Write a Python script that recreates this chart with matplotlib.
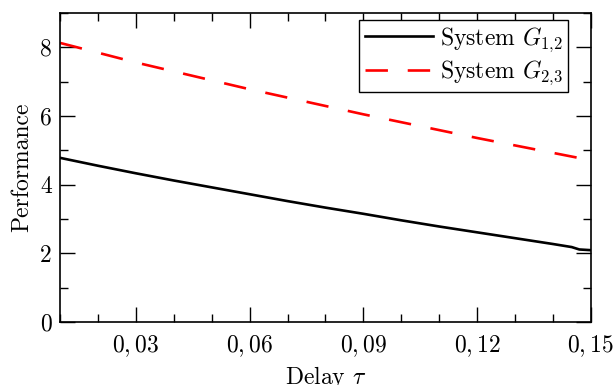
import matplotlib
matplotlib.use('Agg')
import matplotlib.pyplot as plt
from matplotlib.ticker import MultipleLocator, FixedLocator

plt.rcParams['font.family'] = 'serif'
plt.rcParams['font.serif'] = ['cmr10']
plt.rcParams['mathtext.fontset'] = 'cm'
plt.rcParams['axes.unicode_minus'] = False
plt.rcParams['axes.formatter.use_mathtext'] = True

# delay values and performance
tau_g12 = [0.01, 0.02, 0.03, 0.04, 0.05, 0.06, 0.07, 0.08, 0.09, 0.10,
           0.11, 0.12, 0.13, 0.14, 0.145, 0.147, 0.15]
perf_g12 = [4.78, 4.55, 4.33, 4.12, 3.92, 3.72, 3.52, 3.33, 3.15, 2.96,
            2.78, 2.61, 2.44, 2.27, 2.18, 2.11, 2.09]
tau_g23 = [0.01, 0.03, 0.06, 0.09, 0.12, 0.15]
perf_g23 = [8.13, 7.56, 6.78, 6.05, 5.36, 4.71]

xticks = [0.03, 0.06, 0.09, 0.12, 0.15]
xticklabels = ['$0,03$', '$0,06$', '$0,09$', '$0,12$', '$0,15$']
yticks = [0, 2, 4, 6, 8]

fig = plt.figure(figsize=(6.14, 3.85), dpi=100)
ax = fig.add_axes([0.098, 0.164, 0.864, 0.802])

ax.plot(tau_g12, perf_g12, color='black', lw=1.9, label='System $G_{1{,}2}$')
ax.plot(tau_g23, perf_g23, color='red', lw=1.9, dashes=(8.5, 7.5),
        label='System $G_{2{,}3}$')

ax.set_xlim(0.01, 0.15)
ax.set_ylim(0, 9)
ax.xaxis.set_major_locator(FixedLocator(xticks))
ax.set_xticklabels(xticklabels)
ax.xaxis.set_minor_locator(MultipleLocator(0.01))
ax.set_yticks(yticks)
ax.set_yticklabels([str(v) for v in yticks])
ax.yaxis.set_minor_locator(MultipleLocator(1))

ax.tick_params(which='both', direction='in', top=True, right=True,
               labelsize=17, width=1.0)
ax.tick_params(which='major', length=11)
ax.tick_params(which='minor', length=5.5)
ax.tick_params(axis='x', pad=8)
ax.tick_params(axis='y', pad=6)
for s in ax.spines.values():
    s.set_linewidth(1.2)

ax.set_xlabel(r'Delay $\tau$', fontsize=17, labelpad=4)
ax.set_ylabel('Performance', fontsize=17, labelpad=5)

leg = ax.legend(loc='upper right', bbox_to_anchor=(0.958, 0.978), fontsize=17,
                handlelength=2.9, fancybox=False, framealpha=1,
                borderpad=0.22, labelspacing=0.2, handletextpad=0.3,
                borderaxespad=0)
leg.get_frame().set_edgecolor('black')
leg.get_frame().set_linewidth(1.0)

fig.savefig('out.png', dpi=100)
